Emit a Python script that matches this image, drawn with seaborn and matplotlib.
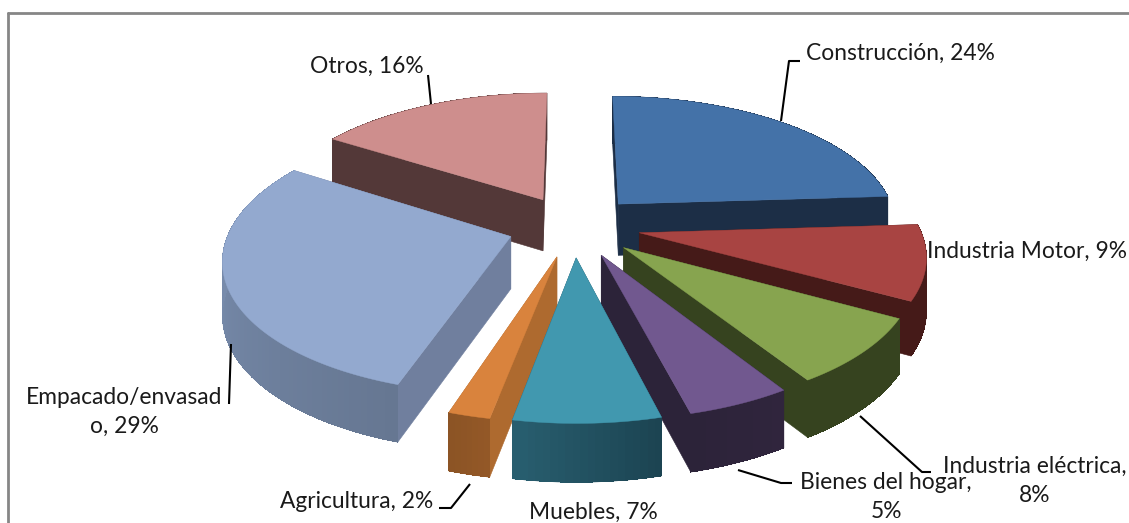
#pastel 3D despiezado - sectores de uso
import numpy as np
import seaborn as sns
import matplotlib.pyplot as plt
from matplotlib.patches import Polygon

#datos---------------------------------------------------------------------------------
sectores = ['Construcción', 'Industria Motor', 'Industria eléctrica', 'Bienes del hogar',
            'Muebles', 'Agricultura', 'Empacado/envasado', 'Otros']
porcentajes = [24, 9, 8, 5, 7, 2, 29, 16]
etiquetas = ['Construcción, 24%', 'Industria Motor, 9%', 'Industria eléctrica,\n8%',
             'Bienes del hogar,\n5%', 'Muebles, 7%', 'Agricultura, 2%',
             'Empacado/envasad\no, 29%', 'Otros, 16%']

#colores: cara superior, lateral (inicio, fin) y cortes
c_top = ['#4472A8', '#A84442', '#87A44F', '#71588F', '#4198AF', '#D9833D', '#93A9CF', '#CE8E8D']
c_arc = [('#1C2E46', '#1C2E46'), ('#451A18', '#451A18'), ('#36431F', '#36431F'),
         ('#30253D', '#2C2339'), ('#1C4452', '#285E6F'), ('#935827', '#8C5425'),
         ('#667792', '#8095B8'), ('#533838', '#533838')]
c_cut = ['#1C2E46', '#451A18', '#36431F', '#2C2339', '#25596A', '#AE6A2F', '#707F9E', '#533838']

#geometria de la proyeccion (pixeles)
cx, cy = 574, 226
rx, ry = 280, 130
expl = 0.237
persp = 0.15
alto = 52

sns.set_theme(style='white')
plt.rcParams['font.family'] = ['Lato', 'DejaVu Sans']

fig = plt.figure(figsize=(11.29, 5.23), dpi=100)
ax = fig.add_axes([0, 0, 1, 1])
ax.set_xlim(0, 1129)
ax.set_ylim(523, 0)
ax.axis('off')


def proyectar(X, Y, abajo=False):
    s = 1 / (1 - persp * Y)
    px = cx + X * rx * s
    py = cy + Y * ry * s
    if abajo:
        py = py + alto * s ** 0.6
    return px, py


def cara(X, Y):
    #contorno superior ida, inferior vuelta
    p1 = proyectar(X, Y)
    p2 = proyectar(X[::-1], Y[::-1], abajo=True)
    return np.column_stack([np.r_[p1[0], p2[0]], np.r_[p1[1], p2[1]]])


#angulos a partir de los porcentajes, en sentido horario desde arriba
limites = np.cumsum([0] + porcentajes) / sum(porcentajes) * 2 * np.pi
medios = (limites[:-1] + limites[1:]) / 2
orden = np.argsort(-np.cos(medios))

for i in orden:
    a0, a1, m = limites[i], limites[i + 1], medios[i]
    ox, oy = expl * np.sin(m), -expl * np.cos(m)
    t = np.linspace(a0, a1, max(int(porcentajes[i] * 3), 8))
    Xr, Yr = ox + np.sin(t), oy - np.cos(t)

    #cortes radiales, atras primero
    cortes = sorted([0, -1], key=lambda k: Yr[k])
    for k in cortes:
        pts = cara(np.array([ox, Xr[k]]), np.array([oy, Yr[k]]))
        ax.add_patch(Polygon(pts, closed=True, fc=c_cut[i], ec=c_cut[i], lw=0.4))

    #lateral curvo: base lisa y degradado encima para que no se vean costuras
    grad = sns.blend_palette(list(c_arc[i]), len(t) - 1)
    ax.add_patch(Polygon(cara(Xr, Yr), closed=True, fc=grad[len(grad) // 2], ec=grad[len(grad) // 2], lw=0.4))
    for j in range(len(t) - 1):
        pts = cara(Xr[j:j + 2], Yr[j:j + 2])
        ax.add_patch(Polygon(pts, closed=True, fc=grad[j], ec='none', antialiased=False))

    #cara superior
    tx, ty = proyectar(np.r_[ox, Xr], np.r_[oy, Yr])
    ax.add_patch(Polygon(np.column_stack([tx, ty]), closed=True, fc=c_top[i], ec=c_top[i], lw=0.3))

#lineas guia y textos (posicion en pixeles)
guias = [([781, 789, 800], [121, 61, 61]),
         ([860, 922, 931], [416, 472, 472]),
         ([738, 781, 792], [470, 483, 483]),
         ([439, 451, 470], [508, 508, 484]),
         ([231, 229], [344, 404]),
         ([428, 431], [75, 104])]
for gx, gy in guias:
    ax.plot(gx, gy, color='black', lw=1.5, solid_capstyle='butt')

textos = [(900, 53), (1027, 251), (1035, 481), (886, 497),
          (593, 512), (357, 501), (124, 412), (367, 66)]
for (tx, ty), et in zip(textos, etiquetas):
    ax.text(tx, ty, et, ha='center', va='center', fontsize=16.4, color='#1a1a1a', linespacing=1.5)

#marco
ax.plot([8, 8], [523, 12.5], color='#868686', lw=2)
ax.plot([8, 1129], [12.5, 12.5], color='#868686', lw=2)

plt.savefig('out.png', dpi=100)
